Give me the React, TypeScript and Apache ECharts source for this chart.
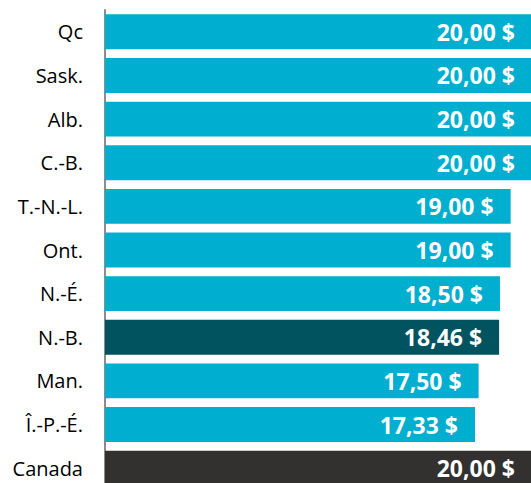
import React, { useEffect, useRef } from "react";
import * as echarts from "echarts";

const categories = ["Qc", "Sask.", "Alb.", "C.-B.", "T.-N.-L.", "Ont.", "N.-É.", "N.-B.", "Man.", "Î.-P.-É.", "Canada"];
const values = [20, 20, 20, 20, 19, 19, 18.5, 18.46, 17.5, 17.33, 20];

const TEAL = "#00AECF";
const DARK_TEAL = "#00535F";
const CANADA = "#323130";

function colorFor(name: string): string {
  if (name === "N.-B.") return DARK_TEAL;
  if (name === "Canada") return CANADA;
  return TEAL;
}

export default function App() {
  const ref = useRef<HTMLDivElement>(null);
  useEffect(() => {
    if (!ref.current) return;
    const chart = echarts.init(ref.current, null, { renderer: "svg" });
    chart.setOption({
      animation: false,
      grid: { left: 105, right: 0, top: 10, bottom: 0, containLabel: false },
      xAxis: { type: "value", min: 0, max: 20, show: false },
      yAxis: {
        type: "category",
        inverse: true,
        data: categories,
        axisLine: { show: true, lineStyle: { color: "#8C8C8C", width: 2 } },
        axisTick: { show: false },
        axisLabel: { color: "#000", fontFamily: "Open Sans", fontSize: 20, margin: 22 },
      },
      series: [
        {
          type: "bar",
          barCategoryGap: "20%",
          data: categories.map((c, i) => ({ value: values[i], itemStyle: { color: colorFor(c) } })),
          label: {
            show: true,
            position: "insideRight",
            distance: 17,
            color: "#fff",
            fontFamily: "Open Sans",
            fontWeight: "bold",
            fontSize: 23,
            formatter: (p: any) => p.value.toFixed(2).replace(".", ",") + " $",
          },
        },
      ],
    });
    return () => chart.dispose();
  }, []);
  return (
    <div style={{ position: "absolute", left: 0, top: 0, width: 531, height: 483, overflow: "hidden" }}>
      <div ref={ref} style={{ width: 532, height: 490 }} />
    </div>
  );
}
